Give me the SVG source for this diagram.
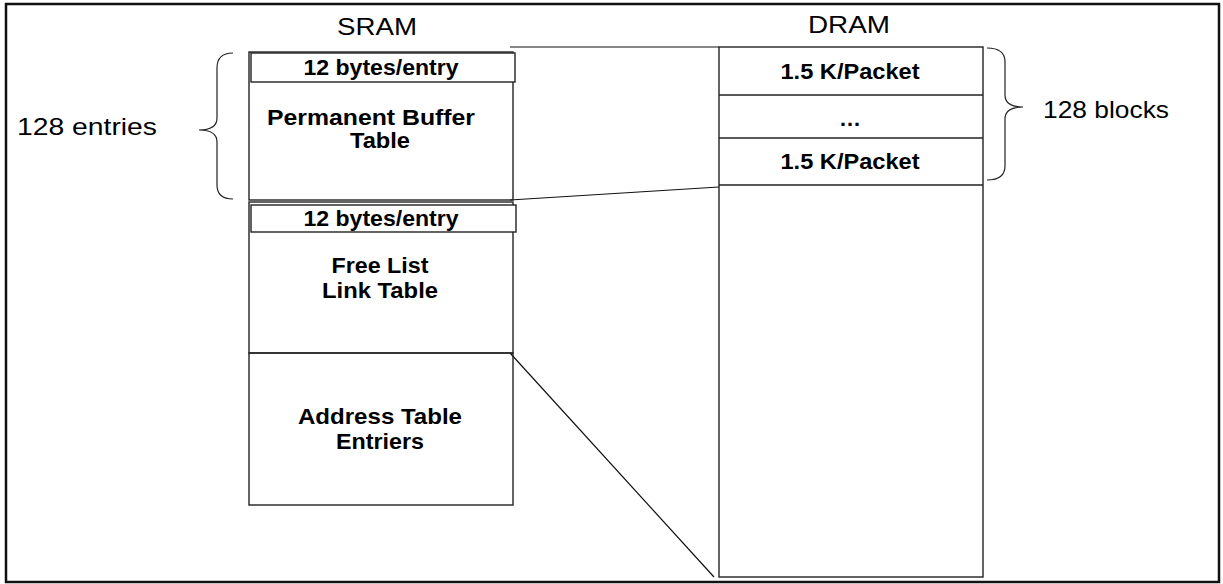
<svg xmlns="http://www.w3.org/2000/svg" width="1223" height="584" viewBox="0 0 1223 584">
<style>
.box{fill:none;stroke:#222;stroke-width:1.4}
.hdr{fill:#fff;stroke:#222;stroke-width:1.4}
.ln{fill:none;stroke:#111;stroke-width:1.2}
.br{fill:none;stroke:#222;stroke-width:1.2}
.t{font-family:"Liberation Sans",Arial,sans-serif;font-size:24px;fill:#000}
.b{font-family:"Liberation Sans",Arial,sans-serif;font-size:22px;font-weight:bold;fill:#000;text-anchor:middle}
</style>
<rect x="0" y="0" width="1223" height="584" fill="#fff"/>
<rect id="frame" x="6" y="4" width="1213" height="578" fill="none" stroke="#111" stroke-width="2.5"/>
<g id="titles">
<text class="t" x="337" y="35" textLength="80" lengthAdjust="spacingAndGlyphs">SRAM</text>
<text class="t" x="808" y="33" textLength="82" lengthAdjust="spacingAndGlyphs">DRAM</text>
</g>
<g id="connectors">
<line class="ln" x1="510" y1="47" x2="719" y2="47"/>
<line class="ln" x1="510" y1="200" x2="719" y2="187"/>
<line class="ln" x1="510" y1="353" x2="714" y2="577"/>
</g>
<g id="permanent-buffer">
<rect class="box" x="249" y="52" width="264" height="148"/>
<rect class="hdr" x="251" y="53" width="264" height="29"/>
<text class="b" x="381" y="75" textLength="155" lengthAdjust="spacingAndGlyphs">12 bytes/entry</text>
<text class="b" x="371" y="125" textLength="208" lengthAdjust="spacingAndGlyphs">Permanent Buffer</text>
<text class="b" x="380" y="148" textLength="60" lengthAdjust="spacingAndGlyphs">Table</text>
</g>
<g id="free-list">
<rect class="box" x="249" y="202" width="264" height="151"/>
<rect class="hdr" x="251" y="205" width="265" height="27"/>
<text class="b" x="381" y="226" textLength="155" lengthAdjust="spacingAndGlyphs">12 bytes/entry</text>
<text class="b" x="380" y="273" textLength="97" lengthAdjust="spacingAndGlyphs">Free List</text>
<text class="b" x="380" y="298" textLength="116" lengthAdjust="spacingAndGlyphs">Link Table</text>
</g>
<g id="address-table">
<rect class="box" x="249" y="353" width="264" height="152"/>
<text class="b" x="380" y="424" textLength="164" lengthAdjust="spacingAndGlyphs">Address Table</text>
<text class="b" x="380" y="449" textLength="88" lengthAdjust="spacingAndGlyphs">Entriers</text>
</g>
<g id="dram">
<rect class="box" x="719" y="47" width="264" height="530"/>
<line class="box" x1="719" y1="95" x2="983" y2="95"/>
<line class="box" x1="719" y1="138" x2="983" y2="138"/>
<line class="box" x1="719" y1="185" x2="983" y2="185"/>
<text class="b" x="850" y="79" textLength="139" lengthAdjust="spacingAndGlyphs">1.5 K/Packet</text>
<text class="b" x="850" y="126">…</text>
<text class="b" x="850" y="169" textLength="139" lengthAdjust="spacingAndGlyphs">1.5 K/Packet</text>
</g>
<g id="brace-entries">
<path class="br" d="M233,53 Q217,53 217,68 L217,118 Q217,130 199,130 Q217,130 217,142 L217,185 Q217,199 233,199"/>
<text class="t" x="17" y="135" textLength="140" lengthAdjust="spacingAndGlyphs">128 entries</text>
</g>
<g id="brace-blocks">
<path class="br" d="M987,48 Q1005,48 1005,62 L1005,95 Q1005,107 1023,107 Q1005,107 1005,119 L1005,166 Q1005,180 987,180"/>
<text class="t" x="1043" y="118" textLength="126" lengthAdjust="spacingAndGlyphs">128 blocks</text>
</g>
</svg>
